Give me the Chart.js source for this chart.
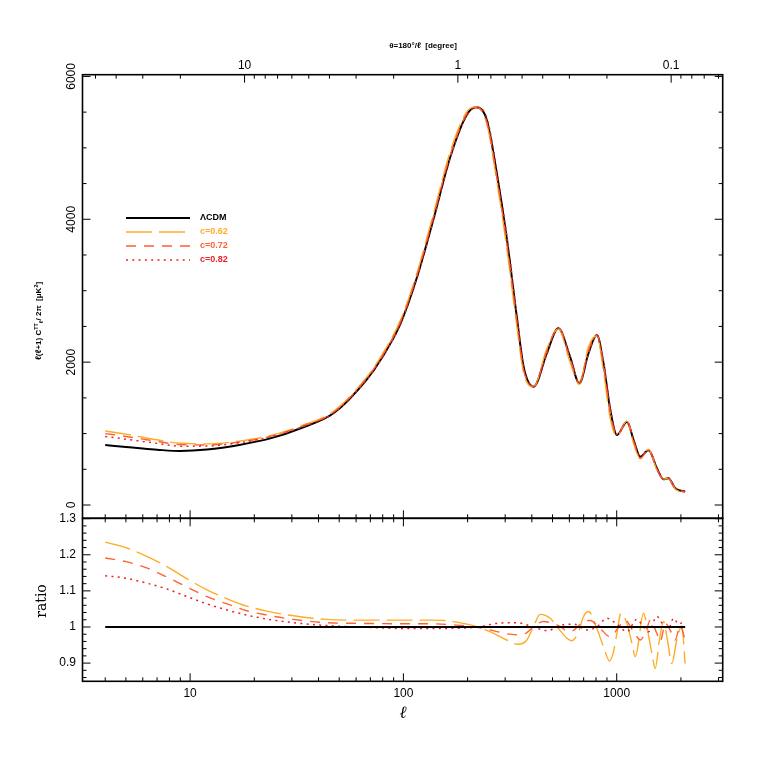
<!DOCTYPE html>
<html>
<head>
<meta charset="utf-8">
<script src="https://cdn.jsdelivr.net/npm/chart.js@4.4.1/dist/chart.umd.min.js"></script>
<style>
  html, body { margin: 0; padding: 0; background: #fff; }
  #wrap { position: relative; width: 763px; height: 763px; }
  #wrap canvas { position: absolute; left: 0; top: 0; }
</style>
</head>
<body>
<div id="wrap">
  <canvas id="specChart" width="763" height="763"></canvas>
  <canvas id="ratioChart" width="763" height="763"></canvas>
</div>
<script>
// ---- data ----
const seriesNames = ['ΛCDM', 'c=0.62', 'c=0.72', 'c=0.82'];

// top panel: l(l+1)C_l/2pi
const ellSpec = [4, 5, 6, 7, 9, 12, 17, 24, 33, 47, 67, 80, 97, 116, 138, 166, 198, 219, 246, 274, 306, 340, 366, 408, 470, 533, 604, 668, 737, 807, 867, 933, 1003, 1117, 1200, 1290, 1410, 1543, 1657, 1749, 1880, 2094];
const dlLCDM = [840, 812, 790, 774, 756, 776, 840, 936, 1075, 1284, 1750, 2080, 2544, 3196, 3990, 4876, 5460, 5567, 5390, 4644, 3710, 2636, 1936, 1656, 2124, 2474, 2076, 1704, 2124, 2380, 1984, 1330, 980, 1166, 910, 676, 770, 514, 360, 374, 234, 186];
const dl062 = [1037, 992, 948, 913, 864, 856, 895, 975, 1106, 1311, 1783, 2120, 2592, 3257, 4066, 4954, 5504, 5573, 5336, 4542, 3576, 2512, 1855, 1656, 2188, 2464, 2003, 1687, 2215, 2370, 1875, 1210, 962, 1178, 860, 650, 780, 490, 365, 370, 225, 168];
const dl072 = [1000, 960, 923, 892, 845, 841, 882, 965, 1095, 1298, 1768, 2099, 2567, 3225, 4026, 4905, 5476, 5567, 5358, 4588, 3640, 2578, 1893, 1656, 2154, 2486, 2049, 1718, 2162, 2380, 1954, 1294, 975, 1183, 898, 652, 778, 505, 360, 372, 226, 179];
const dl082 = [959, 922, 890, 863, 824, 825, 871, 955, 1086, 1288, 1750, 2074, 2534, 3183, 3974, 4861, 5449, 5567, 5422, 4690, 3755, 2668, 1948, 1656, 2103, 2474, 2093, 1707, 2107, 2380, 2020, 1357, 988, 1151, 919, 683, 760, 529, 362, 373, 239, 190];

// bottom panel: ratio to LCDM
const ellRatioLCDM = [4, 2094];
const ratioLCDM = [1, 1];
const ellR62 = [4, 5, 6.3, 7.8, 9.7, 12, 14.9, 18.4, 22.9, 30.5, 43.7, 62.7, 100, 133, 160, 198, 221, 255, 305, 345, 379, 407, 438, 488, 533, 584, 616, 662, 699, 738, 807, 867, 925, 966, 1002, 1047, 1117, 1178, 1222, 1337, 1385, 1462, 1515, 1586, 1657, 1729, 1813, 1913, 2020, 2093];
const ratio62 = [1.235, 1.220, 1.195, 1.167, 1.133, 1.103, 1.078, 1.058, 1.044, 1.031, 1.021, 1.019, 1.019, 1.019, 1.0175, 1.008, 1.001, 0.987, 0.964, 0.952, 0.964, 1.001, 1.035, 1.024, 0.996, 0.969, 0.962, 0.987, 1.029, 1.043, 0.996, 0.945, 0.906, 0.931, 0.982, 1.038, 1.010, 0.955, 0.918, 1.038, 1.001, 0.927, 0.885, 0.964, 1.015, 0.964, 0.899, 0.964, 1.003, 0.899];
const ellR72 = [4, 5, 6.3, 7.8, 9.7, 12, 14.9, 18.4, 22.9, 30.5, 43.7, 62.7, 100, 133, 171, 211, 255, 305, 360, 407, 453, 525, 604, 699, 750, 836, 933, 1025, 1094, 1200, 1290, 1385, 1436, 1543, 1600, 1690, 1785, 1880, 1984, 2093];
const ratio72 = [1.191, 1.181, 1.163, 1.138, 1.110, 1.084, 1.064, 1.045, 1.033, 1.021, 1.012, 1.010, 1.009, 1.009, 1.006, 1.001, 0.992, 0.981, 0.978, 1.0, 1.015, 1.006, 0.987, 1.015, 1.018, 0.996, 0.973, 1.001, 1.019, 0.987, 0.964, 0.996, 1.019, 0.982, 0.960, 1.010, 0.990, 0.964, 1.003, 0.964];
const ellR82 = [4, 5, 6.3, 7.8, 9.7, 12, 14.9, 18.4, 22.9, 30.5, 43.7, 62.7, 100, 133, 190, 229, 274, 340, 407, 470, 562, 630, 725, 807, 898, 1002, 1117, 1242, 1337, 1410, 1543, 1657, 1750, 1846, 1950, 2093];
const ratio82 = [1.142, 1.135, 1.121, 1.105, 1.084, 1.064, 1.047, 1.033, 1.022, 1.012, 1.004, 1.000, 0.996, 0.996, 0.997, 1.001, 1.010, 1.012, 1.0, 0.99, 1.006, 1.008, 0.992, 1.0, 1.024, 1.008, 0.987, 1.021, 1.0, 0.987, 1.029, 1.005, 0.996, 1.024, 1.008, 1.019];

// tick labels
const specTicks = [0, 2000, 4000, 6000];
const ratioTicks = [0.9, 1, 1.1, 1.2, 1.3];
const ellTicks = [10, 100, 1000];
const thetaTicks = [10, 1, 0.1];

// ---- styles ----
const colors = ['#000000', '#ffab24', '#ff6232', '#e8232b'];
const dashes = [[], [26, 7], [10, 8], [2, 4.3]];
const widths = [2, 1.4, 1.4, 1.5];
const TICK_FONT = '12px "Liberation Sans"';

const pts = (xs, ys) => xs.map((x, i) => ({ x, y: ys[i] }));

function seg(ctx, x1, y1, x2, y2) {
  ctx.beginPath(); ctx.moveTo(x1, y1); ctx.lineTo(x2, y2); ctx.stroke();
}

function ellTickList(scale) {
  const out = [];
  for (let d = 1; d <= 1000; d *= 10) {
    for (let m = 1; m <= 9; m++) {
      const v = m * d;
      if (v >= scale.min && v <= scale.max) out.push({ v, major: m === 1 });
    }
  }
  return out;
}

function thetaTickList(scale) {
  const out = [];
  [0.01, 0.1, 1, 10].forEach(d => {
    for (let m = 1; m <= 9; m++) {
      const l = 180 / (m * d);
      if (l >= scale.min && l <= scale.max) out.push({ v: l, major: m === 1 });
    }
  });
  return out;
}

function rotText(ctx, txt, x, y) {
  ctx.save();
  ctx.translate(x, y);
  ctx.rotate(-Math.PI / 2);
  ctx.fillText(txt, 0, 0);
  ctx.restore();
}

// pieces: [text, sizePx, dy]
function richText(ctx, pieces, x, y, weight) {
  let total = 0;
  pieces.forEach(p => { ctx.font = weight + ' ' + p[1] + 'px "Liberation Sans"'; total += ctx.measureText(p[0]).width; });
  let cx = x - total / 2;
  ctx.textAlign = 'left';
  pieces.forEach(p => {
    ctx.font = weight + ' ' + p[1] + 'px "Liberation Sans"';
    ctx.fillText(p[0], cx, y + p[2]);
    cx += ctx.measureText(p[0]).width;
  });
}

const specAxes = {
  id: 'specAxes',
  afterDraw(chart) {
    const { ctx, chartArea: a, scales: { x, y } } = chart;
    ctx.save();
    ctx.strokeStyle = '#000';
    ctx.fillStyle = '#000';
    ctx.lineWidth = 1.6;
    ctx.strokeRect(a.left, a.top, a.right - a.left, a.bottom - a.top);
    ctx.lineWidth = 1;

    // ell ticks on the bottom edge, pointing up
    ellTickList(x).forEach(t => {
      const px = x.getPixelForValue(t.v);
      seg(ctx, px, a.bottom, px, a.bottom - (t.major ? 8 : 4));
    });
    // theta ticks on the top edge, pointing down
    thetaTickList(x).forEach(t => {
      const px = x.getPixelForValue(t.v);
      seg(ctx, px, a.top, px, a.top + (t.major ? 8 : 4));
    });
    // y ticks both sides
    for (let v = 0; v <= 6000; v += 500) {
      const py = y.getPixelForValue(v);
      const L = v % 2000 === 0 ? 8 : 4;
      seg(ctx, a.left, py, a.left + L, py);
      seg(ctx, a.right, py, a.right - L, py);
    }

    // labels
    ctx.font = TICK_FONT;
    ctx.textAlign = 'center';
    ctx.textBaseline = 'middle';
    specTicks.forEach(v => rotText(ctx, String(v), 72, y.getPixelForValue(v)));
    ctx.textBaseline = 'alphabetic';
    thetaTicks.forEach(th => ctx.fillText(String(th), x.getPixelForValue(180 / th), 69));

    // top axis title
    ctx.font = 'bold 8px "Liberation Sans"';
    ctx.fillText('θ=180°/ℓ  [degree]', 423, 48);

    // y title
    ctx.save();
    ctx.translate(41, 321);
    ctx.rotate(-Math.PI / 2);
    richText(ctx, [['ℓ(ℓ+1) C', 8, 0], ['TT', 5.5, -3], ['ℓ', 5.5, 2], ['/ 2π  [μK', 8, 0], ['2', 5.5, -3], [']', 8, 0]], 0, 0, 'bold');
    ctx.restore();

    // legend
    const lx0 = 126, lx1 = 190, ly = [218, 232, 246, 260];
    seriesNames.forEach((name, i) => {
      ctx.strokeStyle = colors[i];
      ctx.lineWidth = widths[i];
      ctx.setLineDash(dashes[i]);
      seg(ctx, lx0, ly[i], lx1, ly[i]);
      ctx.setLineDash([]);
      ctx.fillStyle = colors[i];
      ctx.font = 'bold 9px "Liberation Sans"';
      ctx.textAlign = 'left';
      ctx.textBaseline = 'middle';
      ctx.fillText(name, 200, ly[i]);
    });
    ctx.restore();
  }
};

const ratioAxes = {
  id: 'ratioAxes',
  afterDraw(chart) {
    const { ctx, chartArea: a, scales: { x, y } } = chart;
    ctx.save();
    ctx.strokeStyle = '#000';
    ctx.fillStyle = '#000';
    ctx.lineWidth = 1.6;
    ctx.strokeRect(a.left, a.top, a.right - a.left, a.bottom - a.top);
    ctx.lineWidth = 1;

    ellTickList(x).forEach(t => {
      const px = x.getPixelForValue(t.v);
      const L = t.major ? 8 : 4;
      seg(ctx, px, a.bottom, px, a.bottom - L);
      seg(ctx, px, a.top, px, a.top + L);
    });
    for (let k = 0; k <= 25; k++) {
      const v = 0.86 + k * 0.02;
      if (v > y.max + 1e-6) break;
      const py = y.getPixelForValue(v);
      const L = k % 5 === 2 ? 8 : 4;
      seg(ctx, a.left, py, a.left + L, py);
      seg(ctx, a.right, py, a.right - L, py);
    }

    ctx.font = TICK_FONT;
    ctx.textAlign = 'right';
    ctx.textBaseline = 'middle';
    ratioTicks.forEach(v => ctx.fillText(String(v), 76, y.getPixelForValue(v)));
    ctx.textAlign = 'center';
    ctx.textBaseline = 'alphabetic';
    ellTicks.forEach(v => ctx.fillText(String(v), x.getPixelForValue(v), 697));

    ctx.font = 'italic 17px "DejaVu Serif"';
    ctx.fillText('ℓ', 403, 718);

    ctx.font = '14px "DejaVu Serif"';
    ctx.textBaseline = 'middle';
    rotText(ctx, 'ratio', 42, 601);
    ctx.restore();
  }
};

const baseOptions = (pad, ymin, ymax) => ({
  responsive: false,
  animation: false,
  devicePixelRatio: 1,
  layout: { padding: pad },
  elements: { point: { radius: 0 }, line: { cubicInterpolationMode: 'monotone', fill: false } },
  plugins: { legend: { display: false }, tooltip: { enabled: false } },
  scales: {
    x: { type: 'logarithmic', min: 3.13, max: 3140, display: false },
    y: { type: 'linear', min: ymin, max: ymax, display: false }
  }
});

const specSets = [dlLCDM, dl062, dl072, dl082];
new Chart(document.getElementById('specChart'), {
  type: 'line',
  data: {
    datasets: specSets.map((vals, i) => ({
      label: seriesNames[i],
      data: pts(ellSpec, vals),
      borderColor: colors[i],
      borderWidth: widths[i],
      borderDash: dashes[i],
      order: 4 - i
    }))
  },
  options: baseOptions({ left: 82.5, right: 40.3, top: 74.7, bottom: 244.7 }, -186, 6024),
  plugins: [specAxes]
});

const ratioEll = [ellRatioLCDM, ellR62, ellR72, ellR82];
const ratioVals = [ratioLCDM, ratio62, ratio72, ratio82];
new Chart(document.getElementById('ratioChart'), {
  type: 'line',
  data: {
    datasets: ratioVals.map((vals, i) => ({
      label: seriesNames[i],
      data: pts(ratioEll[i], vals),
      borderColor: colors[i],
      borderWidth: widths[i],
      borderDash: dashes[i],
      order: i === 0 ? 0 : 4 - i
    }))
  },
  options: baseOptions({ left: 82.5, right: 40.3, top: 518.3, bottom: 81.7 }, 0.8496, 1.301),
  plugins: [ratioAxes]
});
</script>
</body>
</html>
